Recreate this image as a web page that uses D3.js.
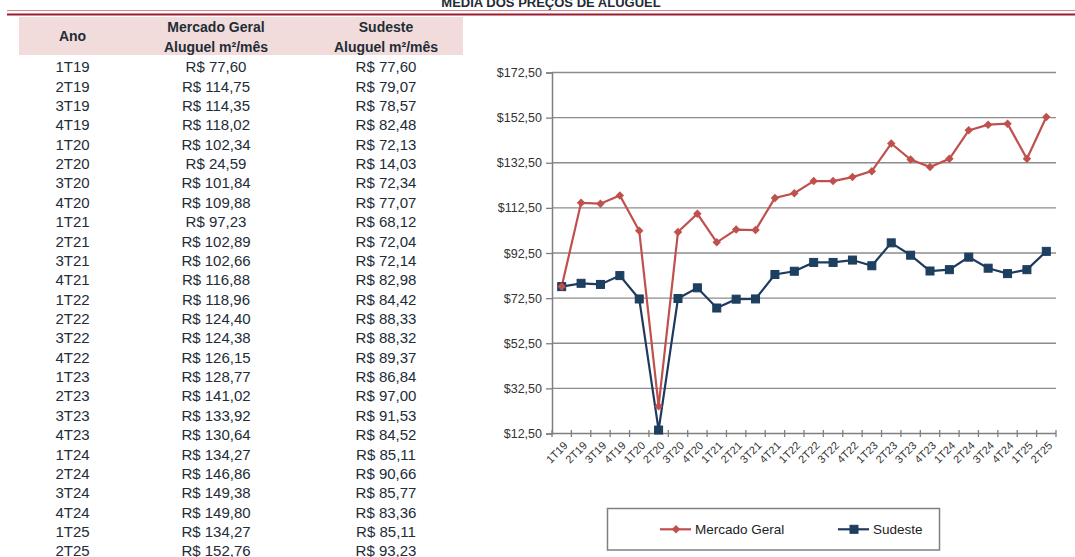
<!DOCTYPE html>
<html>
<head>
<meta charset="utf-8">
<script src="https://d3js.org/d3.v7.min.js"></script>
<style>
  * { margin: 0; padding: 0; box-sizing: border-box; }
  html, body { width: 1075px; height: 557px; overflow: hidden; background: #fff; }
  body { font-family: 'Liberation Sans', Arial, sans-serif; }
</style>
</head>
<body>
<svg id="chart" width="1075" height="557"></svg>
<script>
// quarters and rent values (R$/m²/mês)
const periods = ['1T19','2T19','3T19','4T19','1T20','2T20','3T20','4T20','1T21','2T21','3T21','4T21','1T22',
                 '2T22','3T22','4T22','1T23','2T23','3T23','4T23','1T24','2T24','3T24','4T24','1T25','2T25'];
const mercadoGeral = [77.60,114.75,114.35,118.02,102.34,24.59,101.84,109.88,97.23,102.89,102.66,116.88,118.96,
                      124.40,124.38,126.15,128.77,141.02,133.92,130.64,134.27,146.86,149.38,149.80,134.27,152.76];
const sudeste = [77.60,79.07,78.57,82.48,72.13,14.03,72.34,77.07,68.12,72.04,72.14,82.98,84.42,
                 88.33,88.32,89.37,86.84,97.00,91.53,84.52,85.11,90.66,85.77,83.36,85.11,93.23];
const yTicks = [12.5, 32.5, 52.5, 72.5, 92.5, 112.5, 132.5, 152.5, 172.5];

const txt = '#222c37';
const red = '#c0504d';
const navy = '#1f3a5f';
const comma = v => v.toFixed(2).replace('.', ',');

const svg = d3.select('#chart');

// title and double rule
svg.append('text').attr('x', 551).attr('y', 7)
  .attr('text-anchor', 'middle').attr('font-size', 13).attr('font-weight', 'bold')
  .attr('fill', txt).text('MÉDIA DOS PREÇOS DE ALUGUEL');
svg.append('line').attr('x1', 7).attr('x2', 1075).attr('y1', 10.5).attr('y2', 10.5)
  .attr('stroke', '#d4848f').attr('stroke-width', 1);
svg.append('line').attr('x1', 7).attr('x2', 1075).attr('y1', 14.5).attr('y2', 14.5)
  .attr('stroke', '#9b1c31').attr('stroke-width', 2.2);

// table
const colX = [72.5, 216, 386];
svg.append('rect').attr('x', 19).attr('y', 17).attr('width', 444).attr('height', 38).attr('fill', '#f2dcdb');
const head = svg.append('g').attr('font-size', 14).attr('font-weight', 'bold').attr('fill', txt).attr('text-anchor', 'middle');
head.append('text').attr('x', colX[0]).attr('y', 41).text('Ano');
head.append('text').attr('x', colX[1]).attr('y', 31.5).text('Mercado Geral');
head.append('text').attr('x', colX[1]).attr('y', 51.5).text('Aluguel m²/mês');
head.append('text').attr('x', colX[2]).attr('y', 31.5).text('Sudeste');
head.append('text').attr('x', colX[2]).attr('y', 51.5).text('Aluguel m²/mês');

const rowY = d3.scaleLinear().domain([0, periods.length - 1]).range([67, 551]);
const rows = svg.append('g').attr('font-size', 15).attr('fill', txt).attr('text-anchor', 'middle')
  .selectAll('g').data(periods).join('g')
  .attr('transform', (d, i) => `translate(0,${rowY(i) + 5.3})`);
rows.append('text').attr('x', colX[0]).text(d => d);
rows.append('text').attr('x', colX[1]).text((d, i) => 'R$ ' + comma(mercadoGeral[i]));
rows.append('text').attr('x', colX[2]).text((d, i) => 'R$ ' + comma(sudeste[i]));

// chart
const x = d3.scaleBand().domain(periods).range([552, 1056]);
const y = d3.scaleLinear().domain([12.5, 172.5]).range([433.5, 72.5]);
const cx = d => x(d) + x.bandwidth() / 2;

const grid = svg.append('g');
grid.selectAll('line').data(yTicks.slice(1)).join('line')
  .attr('x1', 552).attr('x2', 1056).attr('y1', d => y(d)).attr('y2', d => y(d))
  .attr('stroke', '#8c8c8c').attr('stroke-width', 1.3);

const yAxis = svg.append('g').attr('transform', 'translate(552,0)')
  .call(d3.axisLeft(y).tickValues(yTicks).tickSize(6).tickPadding(4).tickFormat(d => '$' + comma(d)));
yAxis.select('.domain').attr('stroke', '#7f7f7f').attr('stroke-width', 1.5);
yAxis.selectAll('.tick line').attr('stroke', '#7f7f7f').attr('stroke-width', 1.3);
yAxis.selectAll('text').attr('font-size', 12.5).attr('fill', '#333').attr('font-family', "'Liberation Sans', Arial, sans-serif");

// x axis with ticks on band boundaries
const xg = svg.append('g');
xg.append('line').attr('x1', 552).attr('x2', 1056).attr('y1', y(12.5)).attr('y2', y(12.5))
  .attr('stroke', '#7f7f7f').attr('stroke-width', 1.5);
const bounds = periods.map(p => x(p)).concat([x.range()[1]]);
xg.selectAll('line.tk').data(bounds).join('line').attr('class', 'tk')
  .attr('x1', d => d).attr('x2', d => d).attr('y1', y(12.5) - 3.5).attr('y2', y(12.5) + 3.5)
  .attr('stroke', '#7f7f7f').attr('stroke-width', 1.3);
xg.selectAll('text').data(periods).join('text')
  .attr('transform', d => `translate(${cx(d) + 4},${y(12.5) + 10}) rotate(-45)`)
  .attr('text-anchor', 'end').attr('dy', '0.35em')
  .attr('font-size', 11).attr('fill', '#333').text(d => d);

// lines and markers
const line = d3.line().x((d, i) => cx(periods[i])).y(d => y(d));
svg.append('path').datum(sudeste).attr('d', line)
  .attr('fill', 'none').attr('stroke', navy).attr('stroke-width', 2.2);
svg.append('path').datum(mercadoGeral).attr('d', line)
  .attr('fill', 'none').attr('stroke', red).attr('stroke-width', 2.2);

svg.append('g').selectAll('rect').data(sudeste).join('rect')
  .attr('x', (d, i) => cx(periods[i]) - 4).attr('y', d => y(d) - 4)
  .attr('width', 8).attr('height', 8).attr('fill', '#1c4060').attr('stroke', navy).attr('stroke-width', 1);
const diamond = d3.symbol().type(d3.symbolDiamond2).size(46);
svg.append('g').selectAll('path').data(mercadoGeral).join('path')
  .attr('d', diamond)
  .attr('transform', (d, i) => `translate(${cx(periods[i])},${y(d)})`)
  .attr('fill', red);

// legend
const lg = svg.append('g');
lg.append('rect').attr('x', 607.5).attr('y', 508.5).attr('width', 332).attr('height', 41.5)
  .attr('fill', '#fff').attr('stroke', '#808080').attr('stroke-width', 1.5);
const items = [
  { name: 'Mercado Geral', color: red, x0: 660, type: 'diamond' },
  { name: 'Sudeste', color: navy, x0: 838, type: 'square' }
];
items.forEach(it => {
  lg.append('line').attr('x1', it.x0).attr('x2', it.x0 + 31).attr('y1', 529.3).attr('y2', 529.3)
    .attr('stroke', it.color).attr('stroke-width', 2.2);
  if (it.type === 'diamond') {
    lg.append('path').attr('d', diamond).attr('transform', `translate(${it.x0 + 16},529.3)`).attr('fill', it.color);
  } else {
    lg.append('rect').attr('x', it.x0 + 12).attr('y', 525.3).attr('width', 8).attr('height', 8)
      .attr('fill', '#1c4060').attr('stroke', it.color);
  }
  lg.append('text').attr('x', it.x0 + 35).attr('y', 534).attr('font-size', 13.5).attr('fill', '#222')
    .text(it.name);
});
</script>
</body>
</html>
